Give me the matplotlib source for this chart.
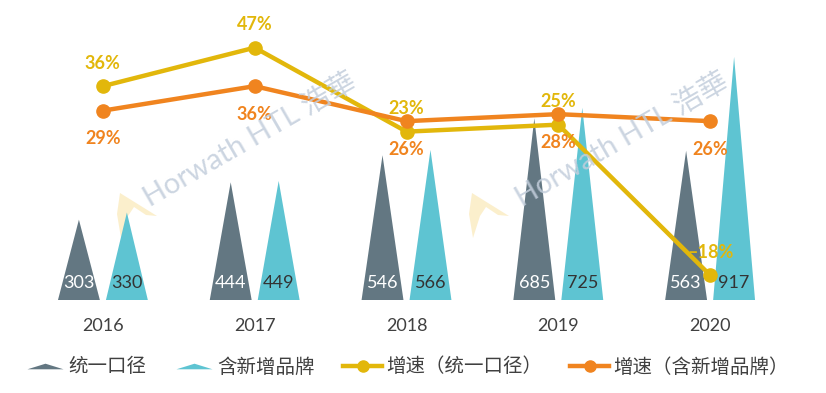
import matplotlib
matplotlib.use('Agg')
import matplotlib.pyplot as plt
from matplotlib.path import Path
from matplotlib.lines import Line2D
from matplotlib.patches import Polygon

# ---- data ----
years = ['2016', '2017', '2018', '2019', '2020']
unified = [303, 444, 546, 685, 563]          # 统一口径
with_new = [330, 449, 566, 725, 917]         # 含新增品牌
growth_unified = [36, 47, 23, 25, -18]       # 增速（统一口径） %
growth_new = [29, 36, 26, 28, 26]            # 增速（含新增品牌） %

series_names = ['统一口径', '含新增品牌', '增速（统一口径）', '增速（含新增品牌）']

DARK = '#637782'
TEAL = '#5EC4D2'
YEL = '#E2B70B'
ORG = '#F0841F'
TXT = '#404040'

plt.rcParams['font.family'] = ['Lato', 'Noto Sans CJK SC', 'DejaVu Sans']

fig = plt.figure(figsize=(8.26, 3.93), dpi=100)
W, H = 826, 393

# faint logo marks (watermark)
for dx in (0, 352):
    pts = [(120, 193), (157, 216), (146, 215), (134, 207), (128, 216), (121, 238), (117, 214)]
    fig.patches.append(Polygon([((x + dx) / W, 1 - y / H) for x, y in pts], closed=True,
                               transform=fig.transFigure, facecolor='#FBEBC0', alpha=0.8,
                               lw=0, zorder=-1))

ax = fig.add_axes([27 / W, 93 / H, 759 / W, 280 / H])
ax.patch.set_visible(False)
ax2 = ax.twinx()

n = len(years)
xs = list(range(n))
off = 0.158
hw = 0.138

for i, (a, b) in enumerate(zip(unified, with_new)):
    xa = i - off
    xb = i + off
    ax.fill([xa - hw, xa + hw, xa], [0, 0, a], color=DARK, lw=0, zorder=1)
    ax.fill([xb - hw, xb + hw, xb], [0, 0, b], color=TEAL, lw=0, zorder=1)
    ax.annotate(str(a), (xa, 0), xytext=(0, 17), textcoords='offset pixels',
                ha='center', va='center', color='white', fontsize=13, zorder=2)
    ax.annotate(str(b), (xb, 0), xytext=(0, 17), textcoords='offset pixels',
                ha='center', va='center', color='#333333', fontsize=13, zorder=2)

ax.set_xlim(-0.5, n - 0.5)
ax.set_ylim(0, 1056)
ax.set_xticks(xs)
ax.set_xticklabels(years, fontsize=13, color=TXT)
ax.tick_params(axis='x', length=0, pad=13)
ax.set_yticks([])
for s in ax.spines.values():
    s.set_visible(False)

ax2.plot(xs, growth_unified, color=YEL, lw=3.2, marker='o', ms=9.5, zorder=3)
ax2.plot(xs, growth_new, color=ORG, lw=3.2, marker='o', ms=9.5, zorder=3)
for i, v in enumerate(growth_unified):
    ax2.annotate(f'{v}%'.replace('-', '–'), (i, v), xytext=(0, 23), textcoords='offset pixels',
                 ha='center', va='center', color=YEL, fontsize=13, fontweight='bold', zorder=4)
for i, v in enumerate(growth_new):
    ax2.annotate(f'{v}%', (i, v), xytext=(0, -28), textcoords='offset pixels',
                 ha='center', va='center', color=ORG, fontsize=13, fontweight='bold', zorder=4)
ax2.set_ylim(-25.1, 54.9)
ax2.set_yticks([])
for s in ax2.spines.values():
    s.set_visible(False)

# watermark text
for (wx, wy) in [(150, 207), (522, 207)]:
    fig.text(wx / W, 1 - wy / H, 'Horwath HTL 浩華', rotation=30, rotation_mode='anchor',
             ha='left', va='baseline', fontsize=21, color='#C3CEDC', alpha=0.85,
             family=['Lato', 'Noto Sans CJK TC', 'DejaVu Sans'], zorder=5)

# legend
tri = Path([(-1, -0.155), (1, -0.155), (0, 0.155), (-1, -0.155)],
           [Path.MOVETO, Path.LINETO, Path.LINETO, Path.CLOSEPOLY])
handles = [
    Line2D([], [], ls='none', marker=tri, ms=26, color=DARK, mew=0),
    Line2D([], [], ls='none', marker=tri, ms=26, color=TEAL, mew=0),
    Line2D([], [], color=YEL, lw=3.2, marker='o', ms=8),
    Line2D([], [], color=ORG, lw=3.2, marker='o', ms=8),
]
leg = fig.legend(handles, series_names, loc='center', bbox_to_anchor=(0.493, 1 - 367 / H),
                 ncol=4, frameon=False, handlelength=2.0, handletextpad=0.2,
                 columnspacing=1.45, prop={'family': ['Noto Sans CJK SC', 'DejaVu Sans'], 'size': 14})
for t in leg.get_texts():
    t.set_color(TXT)

fig.savefig('out.png', dpi=100)
